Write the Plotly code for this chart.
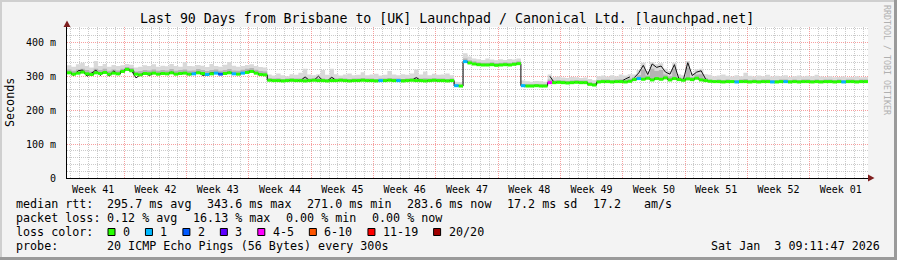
import plotly.graph_objects as go

# ---------------- data ----------------
TITLE = "Last 90 Days from Brisbane to [UK] Launchpad / Canonical Ltd. [launchpad.net]"
STEP_DAYS = 0.5          # one sample every 12 h
RANGE_DAYS = 90
FIRST_WEEK_START = -0.56  # Week 41 starts 0.56 days before the graph start

week_labels = ["Week 41", "Week 42", "Week 43", "Week 44", "Week 45", "Week 46", "Week 47",
               "Week 48", "Week 49", "Week 50", "Week 51", "Week 52", "Week 01"]
y_tick_vals = [0, 100, 200, 300, 400]
y_tick_text = ["0", "100 m", "200 m", "300 m", "400 m"]

# median rtt (ms), per half day, by segment
med_a = [310, 306, 309, 312, 307, 305, 310, 308, 311, 306, 309, 307, 314, 320, 316, 306,
         304, 308, 307, 309, 306, 308, 307, 310, 306, 308, 309, 306, 307, 310, 308, 305,
         307, 309, 306, 308, 310, 307, 306, 309, 311, 314, 309, 305, 304]
med_b = [288, 287, 287, 286, 287, 288, 287, 287, 286, 287, 288, 287, 287, 286, 287, 287,
         288, 287, 286, 287, 287, 288, 287, 287, 286, 287, 287, 288, 287, 287, 286, 287,
         288, 287, 287, 286, 287, 288, 287, 287, 286, 287]
med_c = [272, 271]
med_d = [343, 339, 336, 334, 333, 333, 334, 332, 333, 334, 333, 335, 337]
med_e = [272, 271, 271, 272, 271, 271]
med_f = [281, 281, 282, 281, 280, 281, 282, 281, 281, 276, 274, 283, 284, 284, 283, 284,
         284, 283, 285]
med_g = [290, 293, 291, 294, 289, 293, 291, 295, 289, 293, 290, 288, 292, 290, 294, 289, 287]
med_h = [285, 284, 284, 283, 284, 284, 283, 284, 284, 283, 284, 283, 284, 284, 283, 283,
         284, 284, 283, 284, 283, 284, 284, 283, 284, 283, 284, 284, 283, 284, 283, 284,
         284, 283, 284, 284]

# thin black line (where it differs from the median)
blk_a = [312, 302, 316, 318, 300, 310, 318, 302, 315, 300, 316, 304, 314, 320, 316, 295,
         304, 310, 302, 309, 306, 308, 307, 312, 306, 308, 309, 304, 307, 312, 302, 305,
         310, 309, 306, 308, 312, 307, 306, 309, 314, 316, 309, 305, 304]
blk_b = [288, 287, 287, 286, 287, 288, 287, 287, 298, 287, 288, 300, 287, 286, 297, 287,
         288, 287, 286, 287, 287, 288, 287, 287, 286, 287, 287, 288, 287, 287, 286, 287,
         288, 296, 287, 286, 287, 288, 287, 287, 286, 287]
blk_f = [300, 281, 282, 281, 280, 281, 282, 281, 281, 276, 274, 283, 284, 284, 283, 284,
         284, 292, 298]
blk_g = [296, 310, 332, 305, 336, 326, 330, 312, 306, 334, 292, 289, 340, 302, 312, 316, 292]

# smoke: upper limit of the light smoke and of the darker smoke (ms)
hi_a = [332, 328, 335, 340, 330, 326, 345, 330, 336, 328, 333, 330, 332, 336, 334, 326,
        328, 332, 330, 335, 328, 331, 329, 336, 330, 328, 341, 330, 329, 333, 331, 327,
        336, 330, 328, 334, 342, 331, 328, 330, 333, 335, 330, 327, 326]
hi_b = [305, 302, 308, 303, 300, 306, 304, 310, 322, 305, 303, 306, 318, 304, 322, 306,
        302, 305, 308, 303, 304, 312, 303, 305, 307, 302, 304, 315, 305, 303, 306, 304,
        308, 320, 305, 314, 303, 307, 304, 305, 308, 303]
hi_c = [284, 282]
hi_d = [368, 358, 352, 350, 348, 352, 349, 347, 350, 348, 351, 349, 352]
hi_e = [287, 285, 284, 286, 285, 284]
hi_f = [305, 297, 299, 296, 295, 298, 297, 295, 296, 292, 288, 300, 302, 299, 303, 300,
        305, 302, 306]
hi_g = [305, 318, 340, 315, 342, 335, 338, 322, 315, 340, 306, 303, 345, 310, 320, 322, 306]
hi_h = [304, 300, 302, 305, 301, 299, 303, 300, 310, 301, 299, 302, 300, 304, 299, 301,
        300, 303, 298, 300, 302, 299, 301, 300, 304, 299, 298, 300, 297, 298, 299, 297,
        298, 300, 297, 298]

mid_a = [320, 316, 320, 322, 318, 314, 322, 318, 322, 316, 320, 317, 322, 327, 324, 314,
         315, 318, 317, 320, 316, 318, 317, 321, 316, 318, 320, 316, 317, 321, 318, 315,
         318, 320, 316, 318, 321, 317, 316, 319, 322, 324, 319, 315, 314]
mid_b = [294, 293, 294, 292, 293, 294, 293, 293, 296, 293, 294, 295, 293, 292, 296, 293,
         294, 293, 292, 293, 293, 295, 293, 293, 292, 293, 293, 295, 293, 293, 292, 293,
         294, 296, 293, 294, 293, 294, 293, 293, 292, 293]
mid_c = [276, 275]
mid_d = [352, 347, 344, 341, 340, 340, 341, 339, 340, 341, 340, 342, 344]
mid_e = [277, 276, 276, 277, 276, 276]
mid_f = [290, 287, 288, 287, 286, 287, 288, 287, 287, 282, 280, 289, 290, 290, 289, 290,
         291, 290, 293]
mid_g = [297, 303, 320, 302, 322, 315, 318, 305, 300, 322, 297, 295, 325, 298, 305, 306, 295]
mid_h = [290, 289, 290, 289, 290, 289, 289, 290, 292, 289, 290, 289, 290, 290, 289, 289,
         290, 290, 289, 290, 289, 290, 290, 289, 290, 289, 290, 290, 289, 290, 289, 290,
         290, 289, 290, 290]

# samples with packet loss: sample index -> loss colour bucket
loss_sample_idx = [28, 31, 33, 34, 37, 39, 70, 74, 87, 89, 102, 108, 128, 150, 158, 161, 174]
loss_sample_bucket = [1, 1, 1, 2, 1, 1, 1, 1, 1, 1, 1, 4, 1, 1, 1, 1, 1]

loss_labels = ["0", "1", "2", "3", "4-5", "6-10", "11-19", "20/20"]
loss_colors = ["#26ff00", "#00b8ff", "#0059ff", "#5e00ff", "#ff00ff", "#ff5500", "#ff0000", "#a00000"]

rtt_items = ["median rtt:", "295.7 ms avg", "343.6 ms max", "271.0 ms min", "283.6 ms now",
             "17.2 ms sd", "17.2 ", "am/s"]
loss_items = ["packet loss:", "0.12 % avg", "16.13 % max", "0.00 % min", "0.00 % now"]
probe_items = ["probe:", "20 ICMP Echo Pings (56 Bytes) every 300s"]
loss_color_head = "loss color:"
date_text = "Sat Jan  3 09:11:47 2026"
y_title = "Seconds"
watermark = "RRDTOOL / TOBI OETIKER"

# ---------------- assemble ----------------
segments_med = [med_a, med_b, med_c, med_d, med_e, med_f, med_g, med_h]
segments_blk = [blk_a, blk_b, None, None, None, blk_f, blk_g, None]
med = [v for s in segments_med for v in s]
hi = hi_a + hi_b + hi_c + hi_d + hi_e + hi_f + hi_g + hi_h
mid = mid_a + mid_b + mid_c + mid_d + mid_e + mid_f + mid_g + mid_h
loss = [0] * len(med)
for i, b in zip(loss_sample_idx, loss_sample_bucket):
    loss[i] = b

t = [i * STEP_DAYS for i in range(len(med) + 1)]


def stepped(v):
    return v + [v[-1]]


# black jitter line: polyline through sample centres, one per segment
blk_x, blk_y = [], []
start = 0
for sm, sb in zip(segments_med, segments_blk):
    if sb is not None:
        for j, v in enumerate(sb):
            blk_x.append(t[start + j] + STEP_DAYS / 2)
            blk_y.append(v)
        blk_x.append(None)
        blk_y.append(None)
    start += len(sm)

# ---------------- geometry / style ----------------
W, H = 897, 260
ML, MR, MT, MB = 67, 29, 27, 82
PW, PH = W - ML - MR, H - MT - MB
Y_MAX = 445
MONO = "DejaVu Sans Mono"
BG = "#f3f3f3"
GRID = "rgba(140,140,140,0.45)"
MGRID = "rgba(240,80,80,0.55)"
ARROW = "#7f1f1f"
CW = 7.05       # advance of one legend character
GAP = 15.4      # gap between legend items
TAB = 107       # tab stop of the legend


def px(x):
    return (x - ML) / PW


def py(y):
    return (H - MB - y) / PH


week_centers = [FIRST_WEEK_START + 3.5 + 7 * k for k in range(len(week_labels))]
week_bounds = [FIRST_WEEK_START + 7 * k for k in range(1, len(week_labels))]
day_lines = [FIRST_WEEK_START + d for d in range(1, RANGE_DAYS + 1)
             if d % 7 != 0 and 0 < FIRST_WEEK_START + d < RANGE_DAYS]
y_minor = [v for v in range(20, Y_MAX, 20) if v % 100 != 0]

fig = go.Figure()
# smoke
fig.add_trace(go.Scatter(x=t, y=stepped(med), mode="lines", line=dict(width=0, shape="hv"),
                         hoverinfo="skip"))
fig.add_trace(go.Scatter(x=t, y=stepped(hi), mode="lines", line=dict(width=0, shape="hv"),
                         fill="tonexty", fillcolor="#d9d9d9", hoverinfo="skip"))
fig.add_trace(go.Scatter(x=t, y=stepped(med), mode="lines", line=dict(width=0, shape="hv"),
                         hoverinfo="skip"))
fig.add_trace(go.Scatter(x=t, y=stepped(mid), mode="lines", line=dict(width=0, shape="hv"),
                         fill="tonexty", fillcolor="#b4b4b4", hoverinfo="skip"))
# black thin lines: stepped median (vertical edges) and jitter polyline
fig.add_trace(go.Scatter(x=t, y=stepped(med), mode="lines",
                         line=dict(width=1, color="black", shape="hv"), hoverinfo="skip"))
fig.add_trace(go.Scatter(x=blk_x, y=blk_y, mode="lines",
                         line=dict(width=1, color="#111111"), hoverinfo="skip"))
# loss coloured median
for b, col in enumerate(loss_colors):
    xs, ys = [], []
    for i, v in enumerate(med):
        if loss[i] == b:
            xs += [t[i], t[i + 1], None]
            ys += [v, v, None]
    if xs:
        fig.add_trace(go.Scatter(x=xs, y=ys, mode="lines", line=dict(width=3, color=col),
                                 hoverinfo="skip"))
# dummy trace for the weekly grid axis
fig.add_trace(go.Scatter(x=[0], y=[0], xaxis="x2", mode="markers",
                         marker=dict(opacity=0), hoverinfo="skip"))

fig.update_layout(
    width=W, height=H, margin=dict(l=ML, r=MR, t=MT, b=MB, pad=0),
    paper_bgcolor=BG, plot_bgcolor="white", showlegend=False,
    font=dict(family=MONO, color="black", size=10),
    xaxis=dict(range=[0, RANGE_DAYS], tickmode="array", tickvals=week_centers,
               ticktext=week_labels, ticks="", showgrid=False, zeroline=False,
               showline=True, linecolor="black", linewidth=1, ticklabelstandoff=2,
               tickfont=dict(family=MONO, size=10, color="black"),
               minor=dict(tickmode="array", tickvals=day_lines, showgrid=True,
                          gridcolor=GRID, griddash="1px,1px", gridwidth=1, ticks="")),
    xaxis2=dict(range=[0, RANGE_DAYS], overlaying="x", anchor="y", side="bottom",
                tickmode="array", tickvals=week_bounds, showticklabels=False, ticks="",
                showgrid=True, gridcolor=MGRID, griddash="1px,1px", gridwidth=1,
                zeroline=False, showline=False),
    yaxis=dict(range=[0, Y_MAX], tickmode="array", tickvals=y_tick_vals, ticktext=y_tick_text,
               ticks="", showgrid=True, gridcolor=MGRID, griddash="1px,1px", gridwidth=1,
               zeroline=False, showline=True, linecolor="black", linewidth=1,
               ticklabelstandoff=8, tickfont=dict(family=MONO, size=10, color="black"),
               minor=dict(tickmode="array", tickvals=y_minor, showgrid=True,
                          gridcolor=GRID, griddash="1px,1px", gridwidth=1, ticks="")),
)

ann = []


def text(x, y, s, size=11.7, anchor="left", color="black", angle=0):
    ann.append(dict(x=px(x), y=py(y), xref="paper", yref="paper", text=s.replace(" ", "\u00a0"),
                    showarrow=False, xanchor=anchor, yanchor="middle", textangle=angle,
                    borderpad=0, borderwidth=0,
                    font=dict(family=MONO, size=size, color=color)))


def row(items, y):
    text(16, y, items[0])
    x = TAB
    for it in items[1:]:
        text(x, y, it)
        x += len(it) * CW + GAP


text(447, 18.5, TITLE, size=13.25, anchor="center")
text(10, 103, y_title, anchor="center", angle=-90)
text(887, 60, watermark, size=8.3, anchor="center", color="#b0b0b0", angle=90)
row(rtt_items, 204.3)
row(loss_items, 218.3)
row(probe_items, 246.3)
text(880, 246.3, date_text, anchor="right")
text(16, 232.3, loss_color_head)

shapes = []
x = TAB + 1
for lab, col in zip(loss_labels, loss_colors):
    shapes.append(dict(type="rect", xref="paper", yref="paper", x0=px(x), x1=px(x + 7),
                       y0=py(235.5), y1=py(228.5), fillcolor=col,
                       line=dict(color="black", width=1)))
    text(x + 15, 232.3, lab)
    x += 15 + len(lab) * CW + GAP

# axis arrows
shapes.append(dict(type="path", xref="paper", yref="paper", fillcolor=ARROW,
                   line=dict(width=0),
                   path=f"M {px(67)},{py(20.5)} L {px(63.5)},{py(27)} L {px(70.5)},{py(27)} Z"))
shapes.append(dict(type="path", xref="paper", yref="paper", fillcolor=ARROW,
                   line=dict(width=0),
                   path=f"M {px(874.5)},{py(178)} L {px(868)},{py(174.5)} L {px(868)},{py(181.5)} Z"))
# frame bevel
shapes.append(dict(type="rect", xref="paper", yref="paper", x0=px(0), x1=px(W), y0=py(2), y1=py(0),
                   fillcolor="#cfcfcf", line=dict(width=0)))
shapes.append(dict(type="rect", xref="paper", yref="paper", x0=px(0), x1=px(2), y0=py(H), y1=py(0),
                   fillcolor="#cfcfcf", line=dict(width=0)))
shapes.append(dict(type="rect", xref="paper", yref="paper", x0=px(0), x1=px(W), y0=py(H), y1=py(H - 3),
                   fillcolor="#9a9a9a", line=dict(width=0)))
shapes.append(dict(type="rect", xref="paper", yref="paper", x0=px(W - 3), x1=px(W), y0=py(H), y1=py(0),
                   fillcolor="#9a9a9a", line=dict(width=0)))

fig.update_layout(annotations=ann, shapes=shapes)
fig.write_html("out.html")
